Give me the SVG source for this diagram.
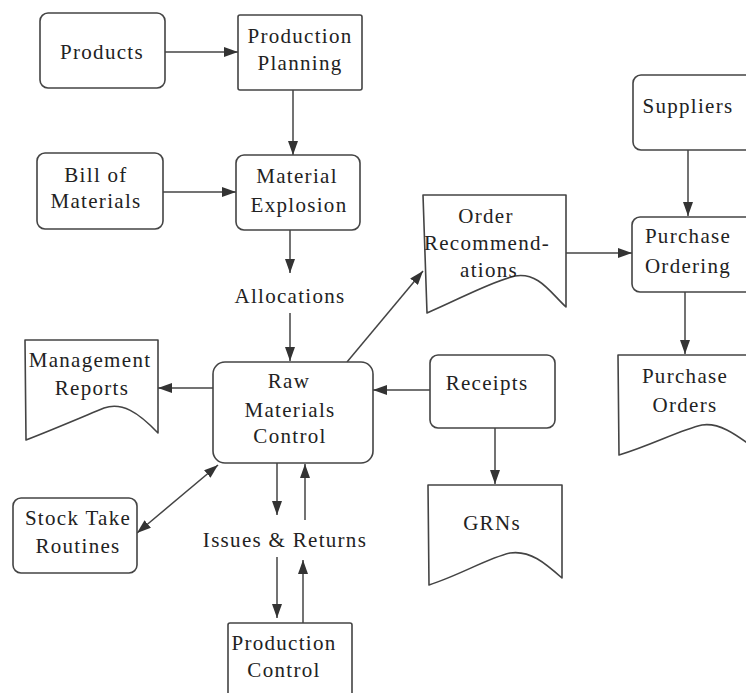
<svg xmlns="http://www.w3.org/2000/svg" width="746" height="693" viewBox="0 0 746 693">
<defs>
<style>
.box{fill:#fff;stroke:#444;stroke-width:1.6}
.doc{fill:#fff;stroke:#444;stroke-width:1.6;stroke-linejoin:round}
.t{font-family:"Liberation Serif","Times New Roman",serif;font-size:21px;letter-spacing:1.3px;fill:#222;text-anchor:middle}
.c{fill:none;stroke:#444;stroke-width:1.5}
.a{marker-end:url(#ah)}
.b{marker-start:url(#ah);marker-end:url(#ah)}
</style>
<marker id="ah" viewBox="0 0 14 10" refX="14" refY="5" markerWidth="14" markerHeight="10" markerUnits="userSpaceOnUse" orient="auto-start-reverse">
<path d="M0,0 L14,5 L0,10 Z" fill="#333"/>
</marker>
</defs>
<rect width="746" height="693" fill="#fff"/>

<g id="connectors">
<path class="c a" d="M165,52 H238"/>
<path class="c a" d="M293,90 V155"/>
<path class="c a" d="M163,192 H236"/>
<path class="c a" d="M290,230 V273"/>
<path class="c a" d="M290,313 V361"/>
<path class="c a" d="M213,388 H158"/>
<path class="c a" d="M430,390 H373"/>
<path class="c a" d="M347,362 L423,271"/>
<path class="c a" d="M566,253 H632"/>
<path class="c a" d="M688,150 V216"/>
<path class="c a" d="M685,292 V354"/>
<path class="c a" d="M495,428 V484"/>
<path class="c b" d="M137,533 L218,465"/>
<path class="c a" d="M277,463 V515"/>
<path class="c a" d="M305,520 V464"/>
<path class="c a" d="M277,557 V618"/>
<path class="c a" d="M303,623 V560"/>
</g>

<g id="products">
<rect class="box" x="40" y="13" width="125" height="75" rx="8"/>
<text class="t" x="102" y="59">Products</text>
</g>

<g id="production-planning">
<rect class="box" x="238" y="15" width="124" height="75" rx="2"/>
<text class="t" x="300" y="43">Production</text>
<text class="t" x="300" y="70">Planning</text>
</g>

<g id="bill-of-materials">
<rect class="box" x="37" y="153" width="126" height="76" rx="8"/>
<text class="t" x="96" y="182">Bill of</text>
<text class="t" x="96" y="208">Materials</text>
</g>

<g id="material-explosion">
<rect class="box" x="236" y="155" width="124" height="75" rx="8"/>
<text class="t" x="297" y="183">Material</text>
<text class="t" x="299" y="212">Explosion</text>
</g>

<g id="allocations">
<text class="t" x="290" y="303">Allocations</text>
</g>

<g id="management-reports">
<path class="doc" d="M25,340 H158 V433 C138,412 122,402 104,408 C80,418 52,430 26,440 Z"/>
<text class="t" x="90" y="367">Management</text>
<text class="t" x="92" y="395">Reports</text>
</g>

<g id="raw-materials-control">
<rect class="box" x="213" y="362" width="160" height="101" rx="12"/>
<text class="t" x="289" y="388">Raw</text>
<text class="t" x="290" y="417">Materials</text>
<text class="t" x="290" y="443">Control</text>
</g>

<g id="order-recommendations">
<path class="doc" d="M423,195 H566 V307 C550,292 538,272 515,276 C490,282 462,298 427,313 Z"/>
<text class="t" x="486" y="223">Order</text>
<text class="t" x="487" y="250">Recommend-</text>
<text class="t" x="489" y="277">ations</text>
</g>

<g id="suppliers">
<rect class="box" x="633" y="75" width="130" height="75" rx="8"/>
<text class="t" x="688" y="113">Suppliers</text>
</g>

<g id="purchase-ordering">
<rect class="box" x="632" y="217" width="130" height="75" rx="8"/>
<text class="t" x="688" y="243">Purchase</text>
<text class="t" x="688" y="273">Ordering</text>
</g>

<g id="receipts">
<rect class="box" x="430" y="355" width="125" height="73" rx="8"/>
<text class="t" x="487" y="390">Receipts</text>
</g>

<g id="purchase-orders">
<path class="doc" d="M618,355 H760 V452 C740,438 722,422 702,425 C680,430 652,445 619,455 Z"/>
<text class="t" x="685" y="383">Purchase</text>
<text class="t" x="685" y="412">Orders</text>
</g>

<g id="grns">
<path class="doc" d="M428,485 H562 V578 C545,563 530,550 510,553 C488,558 460,575 429,585 Z"/>
<text class="t" x="492" y="530">GRNs</text>
</g>

<g id="stock-take-routines">
<rect class="box" x="13" y="498" width="124" height="75" rx="8"/>
<text class="t" x="78" y="525">Stock Take</text>
<text class="t" x="78" y="553">Routines</text>
</g>

<g id="issues-returns">
<text class="t" x="285" y="547">Issues &amp; Returns</text>
</g>

<g id="production-control">
<rect class="box" x="228" y="623" width="124" height="80" rx="2"/>
<text class="t" x="284" y="650">Production</text>
<text class="t" x="284" y="677">Control</text>
</g>
</svg>
